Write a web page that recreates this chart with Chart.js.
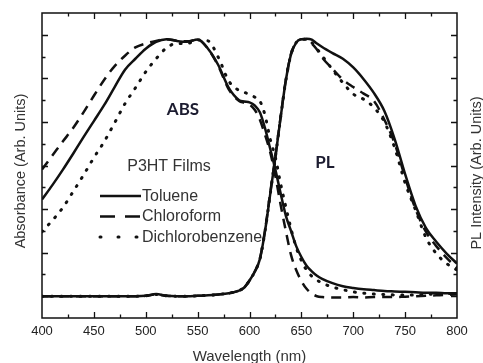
<!DOCTYPE html>
<html><head><meta charset="utf-8">
<script src="https://cdn.jsdelivr.net/npm/chart.js@4"></script>
<style>html,body{margin:0;padding:0;background:#fff}#wrap{width:483px;height:363px}</style>
</head><body><div id="wrap"><canvas id="c" width="483" height="363"></canvas></div>
<script>
const wavelengths = [400,410,420,430,440,450,460,470,480,490,500,510,520,530,540,550,560,570,580,590,595,600,605,610,615,620,625,630,635,640,645,650,655,660,665,670,680,690,700,710,720,730,740,750,760,770,780,790,800];

const tolueneAbs = [2.22,2.55,2.90,3.27,3.65,4.02,4.39,4.80,5.20,5.45,5.68,5.84,5.90,5.86,5.84,5.89,5.68,5.30,4.78,4.50,4.47,4.45,4.38,4.22,3.85,3.38,2.90,2.36,1.85,1.50,1.15,0.90,0.70,0.57,0.47,0.40,0.30,0.23,0.19,0.16,0.14,0.12,0.11,0.10,0.09,0.08,0.08,0.07,0.07];
const chloroformAbs = [2.91,3.23,3.55,3.86,4.22,4.60,4.97,5.28,5.52,5.71,5.80,5.86,5.90,5.86,5.85,5.89,5.68,5.28,4.75,4.48,4.44,4.40,4.28,4.05,3.70,3.30,2.75,2.10,1.50,0.95,0.60,0.35,0.17,0.06,0.00,-0.02,-0.03,-0.03,-0.02,-0.03,-0.02,-0.02,-0.02,-0.01,0.00,0.01,0.02,0.03,0.04];
const dichlorobenzeneAbs = [1.48,1.74,2.03,2.40,2.78,3.18,3.55,3.98,4.42,4.78,5.15,5.45,5.70,5.80,5.80,5.88,5.86,5.48,4.94,4.72,4.68,4.63,4.57,4.48,4.15,3.60,3.18,2.58,2.05,1.55,1.12,0.82,0.60,0.46,0.37,0.30,0.21,0.15,0.10,0.07,0.05,0.04,0.03,0.03,0.03,0.04,0.05,0.06,0.07];

const toluenePL = [0.00,0.00,0.00,0.00,0.00,0.00,0.00,0.00,0.00,0.00,0.01,0.05,0.01,0.00,0.00,0.01,0.02,0.04,0.07,0.13,0.20,0.36,0.56,0.85,1.50,2.35,3.20,4.10,4.95,5.55,5.82,5.90,5.91,5.89,5.80,5.72,5.58,5.45,5.25,4.98,4.66,4.25,3.60,2.80,2.08,1.57,1.25,0.98,0.75];
const chloroformPL = [0.00,0.00,0.00,0.00,0.00,0.00,0.00,0.00,0.00,0.00,0.01,0.04,0.01,0.00,0.00,0.01,0.02,0.04,0.07,0.13,0.20,0.36,0.56,0.86,1.52,2.38,3.22,4.12,4.96,5.56,5.82,5.90,5.90,5.80,5.66,5.48,5.22,4.97,4.80,4.65,4.48,4.05,3.50,2.72,2.00,1.48,1.15,0.88,0.65];
const dichlorobenzenePL = [0.00,0.00,0.00,0.00,0.00,0.00,0.00,0.00,0.00,0.00,0.01,0.04,0.01,0.00,0.00,0.01,0.02,0.04,0.07,0.13,0.20,0.36,0.56,0.85,1.50,2.35,3.20,4.10,4.95,5.55,5.82,5.90,5.90,5.82,5.68,5.52,5.20,4.90,4.64,4.52,4.33,4.00,3.40,2.60,1.98,1.35,0.98,0.75,0.60];

const seriesNames = ['Toluene','Chloroform','Dichlorobenzene'];
const xTickValues = [400,450,500,550,600,650,700,750,800];

const FONT = "'Liberation Sans', Arial, sans-serif";
const INK = '#111';
const dashes = [[], [10,7], [1,8.5]];
const legendDashes = [[], [15,10], [1,17]];

function pts(arr){ return wavelengths.map((w,i)=>({x:w,y:arr[i]})); }
function ds(label, arr, k, axis, hideLegend){
  return {label, data: pts(arr), yAxisID: axis, borderColor: INK, borderWidth: k===2?3:2.5,
    borderDash: dashes[k], borderCapStyle: k===2?'round':'butt', pointRadius:0, fill:false,
    cubicInterpolationMode:'monotone', legendIdx: hideLegend?-1:k};
}

const overlay = {
  id:'overlay',
  afterDraw(chart){
    const c = chart.ctx, a = chart.chartArea;
    const xs = chart.scales.x, ys = chart.scales.y;
    c.save();
    c.strokeStyle = INK; c.lineWidth = 1.5; c.setLineDash([]);
    c.strokeRect(a.left, a.top, a.right-a.left, a.bottom-a.top);
    c.lineWidth = 1.3;
    c.beginPath();
    xs.ticks.forEach(t=>{
      const v=t.value; if(v<=xs.min||v>=xs.max) return;
      const p = Math.round(xs.getPixelForValue(v))+0.5;
      const L = v%50===0?6:3.5;
      c.moveTo(p,a.bottom); c.lineTo(p,a.bottom-L);
      c.moveTo(p,a.top); c.lineTo(p,a.top+L);
    });
    ys.ticks.forEach(t=>{
      const v=t.value; if(v<=ys.min||v>=ys.max) return;
      const p = Math.round(ys.getPixelForValue(v))+0.5;
      const L = Math.abs(v-Math.round(v))<1e-6?6:3.5;
      c.moveTo(a.left,p); c.lineTo(a.left+L,p);
      c.moveTo(a.right,p); c.lineTo(a.right-L,p);
    });
    c.stroke();

    // legend
    c.font = '16px '+FONT; c.fillStyle='#333'; c.textBaseline='middle'; c.textAlign='left';
    const rows=[196,216.5,237];
    seriesNames.forEach((n,i)=>{
      c.beginPath(); c.lineWidth = i===2?3:2.5; c.setLineDash(legendDashes[i]);
      c.lineCap = i===2?'round':'butt';
      c.moveTo(100,rows[i]); c.lineTo(141,rows[i]); c.stroke();
      c.setLineDash([]); c.lineCap='butt';
      c.fillText(n,142,rows[i]+0.5);
    });
    c.textAlign='center';
    c.fillText('P3HT Films',169,167);
    c.font = 'bold 17px Lato, sans-serif'; c.fillStyle='#1c1c30';
    c.fillText('ABS',183,110);
    c.fillText('PL',325,163);

    // axis titles
    c.font = '14.5px '+FONT; c.fillStyle='#333';
    c.save(); c.translate(21,171); c.rotate(-Math.PI/2); c.fillText('Absorbance (Arb. Units)',0,0); c.restore();
    c.save(); c.translate(477,173); c.rotate(-Math.PI/2); c.fillText('PL Intensity (Arb. Units)',0,0); c.restore();
    c.font = '15px '+FONT; c.textBaseline='alphabetic';
    c.fillText('Wavelength (nm)',249.5,361);
    c.restore();
  }
};

new Chart(document.getElementById('c'), {
  type:'line',
  data:{ datasets:[
    ds(seriesNames[0], tolueneAbs, 0, 'y'),
    ds(seriesNames[1], chloroformAbs, 1, 'y'),
    ds(seriesNames[2], dichlorobenzeneAbs, 2, 'y'),
    ds(seriesNames[0]+' PL', toluenePL, 0, 'y2', true),
    ds(seriesNames[1]+' PL', chloroformPL, 1, 'y2', true),
    ds(seriesNames[2]+' PL', dichlorobenzenePL, 2, 'y2', true)
  ]},
  options:{
    responsive:false, animation:false, devicePixelRatio:1,
    layout:{padding:{top:13,left:0,right:0,bottom:0}},
    plugins:{legend:{display:false}, tooltip:{enabled:false}},
    scales:{
      x:{type:'linear', min:400, max:800, position:'bottom',
        grid:{drawOnChartArea:false, drawTicks:false}, border:{display:false},
        ticks:{stepSize:25, autoSkip:false, maxRotation:0, padding:6, color:'#222',
          font:{family:FONT, size:13},
          callback:(v)=> xTickValues.includes(v) ? String(v) : ''},
        afterFit:(s)=>{s.height=45;}},
      y:{type:'linear', min:-0.5, max:6.5, position:'left',
        grid:{drawOnChartArea:false, drawTicks:false}, border:{display:false},
        ticks:{stepSize:0.5, display:false},
        afterFit:(s)=>{s.width=42;}},
      y2:{type:'linear', min:-0.5, max:6.5, position:'right',
        grid:{drawOnChartArea:false, drawTicks:false}, border:{display:false},
        ticks:{stepSize:0.5, display:false},
        afterFit:(s)=>{s.width=26;}}
    }
  },
  plugins:[overlay]
});
</script>
</body></html>
